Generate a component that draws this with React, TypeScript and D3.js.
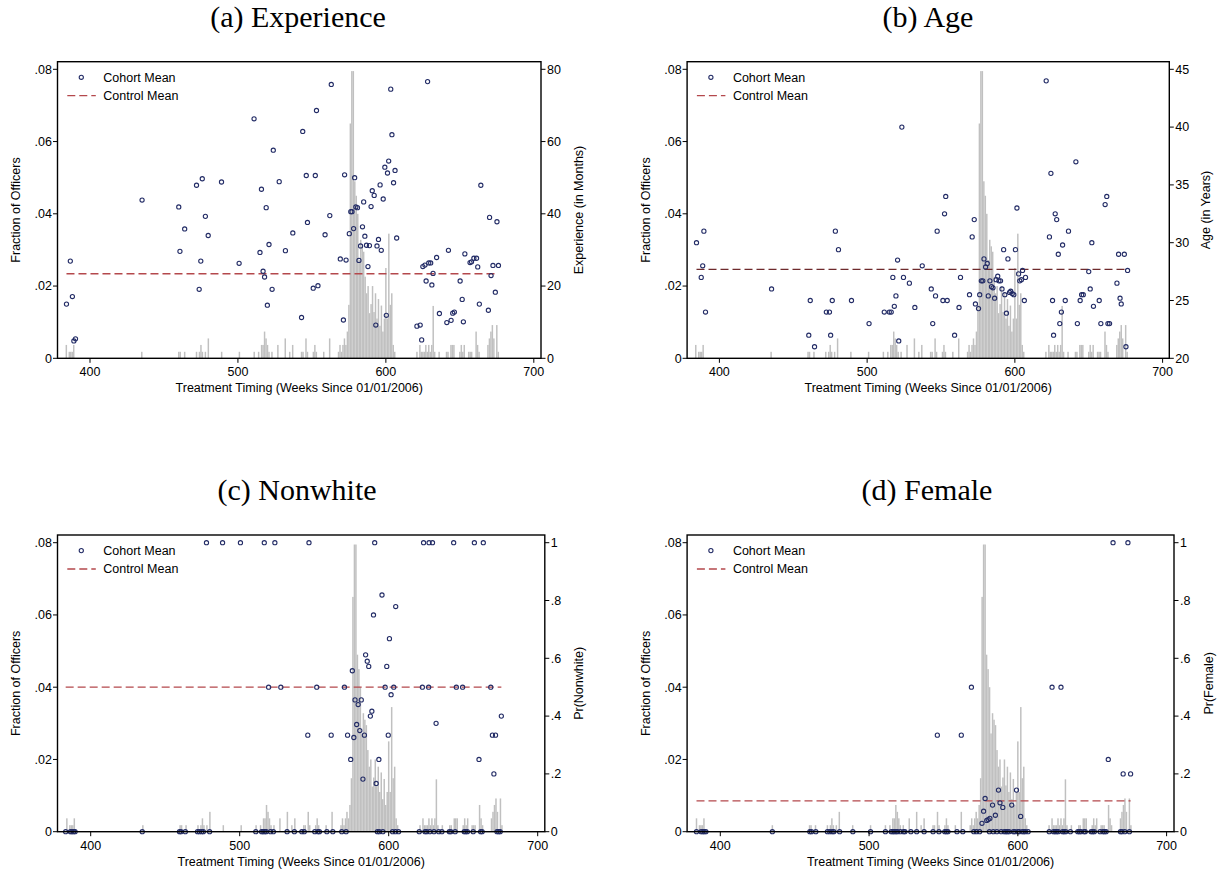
import * as d3 from "d3";

// share of officers treated in each week (histogram, left axis)
const officerShare: [number, number][] = [
  [384, 0.0037], [386, 0.0018], [387, 0.0018], [388, 0.0018], [389, 0.0037],
  [435, 0.0018], [460, 0.0018], [461, 0.0018], [464, 0.0018],
  [472, 0.0018], [474, 0.0018], [475, 0.0037], [476, 0.0018], [478, 0.0018], [480, 0.0055],
  [489, 0.0018], [501, 0.0018], [511, 0.0018], [514, 0.0018],
  [516, 0.0037], [517, 0.0037], [518, 0.0074], [519, 0.0055], [520, 0.0037], [521, 0.0018], [523, 0.0018],
  [527, 0.0037], [532, 0.0055], [535, 0.0018], [537, 0.0037],
  [543, 0.0018], [544, 0.0018], [546, 0.0055], [547, 0.0018],
  [551, 0.0018], [552, 0.0037], [553, 0.0018], [558, 0.0018], [562, 0.0055],
  [568, 0.0018], [569, 0.0037], [570, 0.0018], [571, 0.0037], [572, 0.0055], [573, 0.0037],
  [574, 0.0074], [575, 0.0148], [576, 0.065], [577, 0.0795], [578, 0.0795], [579, 0.049],
  [580, 0.045], [581, 0.04], [582, 0.0272], [583, 0.0328], [584, 0.031], [585, 0.0295],
  [586, 0.0226], [587, 0.018], [588, 0.02], [589, 0.0125], [590, 0.015], [591, 0.02],
  [592, 0.0128], [593, 0.018], [594, 0.011], [595, 0.0164], [596, 0.009], [597, 0.0146],
  [598, 0.0074], [599, 0.011], [600, 0.025], [601, 0.011], [602, 0.0345], [603, 0.0148],
  [604, 0.018], [605, 0.0037], [606, 0.0018],
  [621, 0.0018], [623, 0.0037], [624, 0.0018], [625, 0.0018], [626, 0.0018], [627, 0.0037],
  [628, 0.0018], [629, 0.0037], [630, 0.0018], [631, 0.0037], [632, 0.0145], [633, 0.0018],
  [636, 0.0018], [641, 0.0018], [642, 0.0018], [644, 0.0037], [645, 0.0037], [646, 0.0037],
  [650, 0.0018], [651, 0.0037], [652, 0.0018], [653, 0.0037], [656, 0.0018], [657, 0.0018],
  [658, 0.0018], [661, 0.0074], [662, 0.0037], [663, 0.0018],
  [669, 0.0037], [670, 0.0055], [671, 0.0074], [672, 0.0092], [673, 0.0055], [675, 0.0092], [676, 0.0018],
];

// cohort means: [week, value]
const experiencePoints: [number, number][] = [
  [384.1, 15.0], [386.7, 26.9], [388.1, 17.1], [389.1, 4.8], [390.2, 5.4], [435.2, 43.8],
  [460, 41.9], [460.8, 29.6], [464, 35.8], [472, 47.9], [473.8, 19.1], [474.9, 26.9],
  [475.9, 49.7], [478, 39.3], [479.9, 34.0], [488.9, 48.8], [500.8, 26.3], [510.9, 66.3],
  [514.9, 29.3], [515.9, 46.8], [517, 24.1], [518, 22.5], [519.1, 41.7], [519.9, 14.7],
  [521, 31.5], [523.1, 19.1], [523.9, 57.6], [527.9, 48.9], [532.1, 29.8], [537.1, 34.7],
  [543, 11.3], [543.8, 62.8], [546.2, 50.6], [547, 37.6], [550.9, 19.4], [552.3, 50.6],
  [553.1, 68.6], [554.1, 20.1], [558.9, 34.2], [562.1, 39.5], [563.1, 75.8], [569.2, 27.5],
  [571.3, 10.6], [572.1, 50.8], [573.1, 27.2], [575.3, 34.5], [576.3, 40.6], [577.1, 40.6],
  [578.2, 35.9], [578.9, 50.0], [579.7, 41.9], [580.8, 41.7], [581.8, 27.1], [582.9, 31.1],
  [584.2, 36.4], [585, 43.3], [585.8, 33.8], [586.9, 31.3], [587.9, 25.4], [588.9, 31.2],
  [590, 42.0], [590.8, 46.4], [592.1, 45.1], [593.2, 9.2], [594, 31.1], [595, 32.9],
  [596.1, 48.0], [596.9, 29.9], [598.2, 44.1], [599.3, 52.9], [600.3, 11.9], [601.1, 51.3],
  [601.9, 54.6], [603.3, 74.5], [604.1, 61.9], [605.2, 48.6], [606.2, 52.0], [607.3, 33.3],
  [621, 8.9], [623.2, 9.2], [624.2, 5.1], [625, 25.4], [626.4, 25.8], [627.2, 21.4],
  [628.2, 76.6], [629, 26.4], [630.3, 26.4], [631.1, 20.3], [631.9, 23.5], [634.3, 27.9],
  [636.2, 12.4], [641.2, 9.9], [642.3, 29.9], [644.1, 10.5], [645.2, 12.5], [646.3, 12.8],
  [650.2, 21.4], [651.6, 16.3], [652.4, 10.1], [653.4, 28.9], [656.9, 26.5], [657.9, 26.7],
  [659.5, 27.7], [661.3, 27.7], [662.1, 25.3], [663.2, 15.0], [664.2, 47.9], [669.3, 13.3],
  [670.1, 39.0], [671.1, 22.9], [672.4, 25.7], [674, 18.3], [675.1, 37.8], [676.1, 25.7],
];

const agePoints: [number, number][] = [
  [384.5, 30.0], [387.7, 27.0], [388.7, 28.0], [389.5, 31.0], [390.6, 24.0], [435.3, 26.0],
  [460.5, 22.0], [461.5, 25.0], [464.4, 21.0], [472.4, 24.0], [474.5, 24.0], [475.3, 22.0],
  [476.4, 25.0], [478.5, 31.0], [480.6, 29.4], [489.4, 25.0], [501.3, 23.0], [511.6, 24.0],
  [515, 24.0], [516.3, 24.0], [517.4, 27.0], [518.4, 24.5], [519.5, 25.4], [520.6, 28.5],
  [521.4, 21.5], [523.5, 40.0], [524.6, 27.0], [528.6, 26.5], [532.3, 24.4], [537.3, 28.0],
  [543.4, 26.0], [544.4, 23.0], [546.3, 25.4], [547.4, 31.0], [551.3, 25.0], [552.4, 32.5],
  [553.2, 34.0], [554.2, 25.0], [559.2, 22.0], [562.2, 24.4], [563.2, 27.0], [569.3, 25.5],
  [571.1, 30.5], [572.5, 32.0], [573.3, 24.7], [575.4, 24.3], [576.2, 25.5], [577.3, 26.7],
  [578.3, 26.7], [579.1, 28.6], [580.2, 27.9], [581.3, 28.2], [582, 25.4], [583.1, 26.7],
  [584.2, 26.2], [585.2, 26.1], [586.3, 25.2], [587.3, 26.8], [588.4, 27.1], [589.2, 26.7],
  [590.3, 26.7], [591.3, 26.0], [592.4, 29.4], [593.2, 25.5], [594.3, 23.9], [595.3, 28.6],
  [596.4, 25.7], [597.2, 25.8], [598.2, 25.6], [599.3, 25.5], [600.4, 29.4], [601.4, 33.0],
  [602.5, 27.3], [603.3, 26.7], [604.4, 26.8], [605.2, 27.6], [606.4, 25.0], [607.2, 27.0],
  [621.2, 44.0], [623.4, 30.5], [624.4, 36.0], [625.5, 25.0], [626.2, 22.0], [627.3, 32.5],
  [628.3, 32.0], [629.4, 29.0], [630.4, 23.0], [631.5, 24.0], [632.3, 29.8], [634.1, 25.0],
  [636.3, 31.0], [641.3, 37.0], [642.3, 23.0], [644.2, 25.0], [645.2, 25.5], [646.3, 25.5],
  [650, 27.5], [651, 26.0], [652.1, 30.0], [653.2, 24.5], [657.1, 25.0], [658.2, 23.0],
  [661.1, 33.3], [662.2, 34.0], [663, 23.0], [664.1, 23.0], [669.1, 26.5], [670.2, 29.0],
  [671.2, 25.2], [672, 24.7], [674.1, 29.0], [675.2, 21.0], [676.3, 27.6],
];

const nonwhitePoints: [number, number][] = [
  [477.7, 1], [488.5, 1], [500.5, 1], [516.5, 1], [523.6, 1], [546.5, 1], [590.6, 1],
  [623.4, 1], [627.1, 1], [629.4, 1], [643.6, 1], [657.5, 1], [663.5, 1],
  [519.4, 0.5], [527.6, 0.5], [551.7, 0.5], [570.3, 0.5], [597.6, 0.5], [603.4, 0.5],
  [622.6, 0.5], [626.8, 0.5], [645.4, 0.5], [649.6, 0.5], [668.5, 0.5],
  [545.7, 0.334], [561.4, 0.334], [572.4, 0.334], [576.6, 0.326], [574.5, 0.25], [575.6, 0.557],
  [577.4, 0.456], [578.5, 0.371], [579.5, 0.44], [580.6, 0.35], [581.6, 0.456], [582.7, 0.182],
  [583.7, 0.334], [584.5, 0.612], [585.6, 0.59], [586.6, 0.572], [587.7, 0.4], [588.7, 0.417],
  [589.8, 0.75], [591.6, 0.167], [593.4, 0.25], [595.5, 0.819], [598.7, 0.572], [599.7, 0.334],
  [600.5, 0.668], [601.6, 0.474], [604.7, 0.779], [631.8, 0.375], [660.6, 0.25], [669.6, 0.334],
  [671.7, 0.334], [670.6, 0.2], [675.6, 0.4],
  [383.2, 0], [386.4, 0], [387.4, 0], [388.5, 0], [389.5, 0], [434.6, 0], [459.6, 0], [460.6, 0],
  [463.5, 0], [471.7, 0], [473, 0], [474.5, 0], [475.6, 0], [479.8, 0], [510.8, 0], [514.7, 0],
  [515.7, 0], [516.8, 0], [517.8, 0], [520.7, 0], [522.6, 0], [531.8, 0], [536.7, 0], [541.7, 0],
  [543.3, 0], [550.4, 0], [552.5, 0], [553.5, 0], [558.5, 0], [562.5, 0], [568.5, 0], [571.4, 0],
  [592.4, 0], [593.7, 0], [596.1, 0], [602.6, 0], [604.5, 0], [606.6, 0], [620.5, 0], [624.4, 0],
  [625.5, 0], [627.6, 0], [630.4, 0], [633.6, 0], [635.7, 0], [640.7, 0], [641.7, 0], [644.6, 0],
  [650.7, 0], [651.7, 0], [652.8, 0], [656.7, 0], [661.7, 0], [662.7, 0], [672.7, 0], [673.8, 0],
  [674.8, 0],
];

const femalePoints: [number, number][] = [
  [664, 1], [674, 1], [568.8, 0.5], [623, 0.5], [629, 0.5], [545.9, 0.334], [562, 0.334],
  [660.8, 0.25], [670.8, 0.2], [675.8, 0.2],
  [575.9, 0.029], [577, 0.071], [578, 0.115], [579.1, 0.039], [580.1, 0.042], [581.2, 0.046],
  [583, 0.092], [584.9, 0.057], [587, 0.144], [588, 0.1], [589.9, 0.084], [595.9, 0.092],
  [599.1, 0.144], [601.9, 0.053],
  [384, 0], [387.1, 0], [388.2, 0], [389.2, 0], [390.3, 0], [435, 0], [460.2, 0], [461.3, 0],
  [464.2, 0], [472, 0], [473.6, 0], [475.2, 0], [476.3, 0], [480.2, 0], [489.1, 0], [501, 0],
  [511, 0], [514.9, 0], [516, 0], [517, 0], [518.1, 0], [519.1, 0], [521, 0], [523.1, 0],
  [524.1, 0], [528.1, 0], [532, 0], [537, 0], [543, 0], [547, 0], [550.9, 0], [552, 0], [553, 0],
  [559.1, 0], [563, 0], [570.4, 0], [572.2, 0], [574.3, 0], [580.9, 0], [583.5, 0], [585.9, 0],
  [588.8, 0], [590.9, 0], [592, 0], [593, 0], [594.1, 0], [597, 0], [598, 0], [600.1, 0],
  [600.9, 0], [603, 0], [604, 0], [605.1, 0], [606.9, 0], [621.1, 0], [624, 0], [625.1, 0],
  [626.1, 0], [627.2, 0], [630.1, 0], [631.1, 0], [632.2, 0], [635.3, 0], [640.3, 0], [641.4, 0],
  [642.4, 0], [644.5, 0], [645.3, 0], [649.3, 0], [650.3, 0], [651.4, 0], [655.3, 0], [657.2, 0],
  [658.2, 0], [659.3, 0], [669, 0], [670, 0], [671.9, 0], [675, 0],
];

const controlExperience = 23.4;
const controlAge = 27.7;
const controlNonwhite = 0.5;
const controlFemale = 0.107;

const shareTicks = [0, 0.02, 0.04, 0.06, 0.08];
const weekTicks = [400, 500, 600, 700];

const fmt = (v: number) => (v === 0 ? "0" : String(+v.toFixed(3)).replace(/^0\./, "."));

const SANS = "'Liberation Sans', Arial, Helvetica, sans-serif";
const SERIF = "'Liberation Serif', 'Times New Roman', serif";
const NAVY = "#232c66";
const BAR = "#c0c0c0";

const panels = [
  {
    title: "(a) Experience", titleX: 298, rightLabel: "Experience (in Months)",
    rightDomain: [0, 80], rightTicks: [0, 20, 40, 60, 80], points: experiencePoints,
    control: controlExperience, controlColor: "#b4484c",
    left: 57.5, right: 541, x400: 90, x700: 533.8, top: 61.7, y08: 69.3, bottom: 358.3,
    leftLabelX: 15.6, rightLabelX: 578.8,
  },
  {
    title: "(b) Age", titleX: 928, rightLabel: "Age (in Years)",
    rightDomain: [20, 45], rightTicks: [20, 25, 30, 35, 40, 45], points: agePoints,
    control: controlAge, controlColor: "#6e2a2c",
    left: 687.1, right: 1169.3, x400: 719.4, x700: 1162.6, top: 61.7, y08: 69.3, bottom: 358.3,
    leftLabelX: 645.2, rightLabelX: 1206,
  },
  {
    title: "(c) Nonwhite", titleX: 297, rightLabel: "Pr(Nonwhite)",
    rightDomain: [0, 1], rightTicks: [0, 0.2, 0.4, 0.6, 0.8, 1], points: nonwhitePoints,
    control: controlNonwhite, controlColor: "#b4484c",
    left: 57.5, right: 544.8, x400: 90.7, x700: 537.7, top: 535, y08: 542.7, bottom: 831.7,
    leftLabelX: 15.6, rightLabelX: 578.8,
  },
  {
    title: "(d) Female", titleX: 927, rightLabel: "Pr(Female)",
    rightDomain: [0, 1], rightTicks: [0, 0.2, 0.4, 0.6, 0.8, 1], points: femalePoints,
    control: controlFemale, controlColor: "#b4484c",
    left: 687.1, right: 1174, x400: 720.3, x700: 1166.6, top: 535, y08: 542.7, bottom: 831.7,
    leftLabelX: 645.2, rightLabelX: 1208.4,
  },
];

function Panel({ p }) {
  const x = d3.scaleLinear([400, 700], [p.x400, p.x700]);
  const y = d3.scaleLinear([0, 0.08], [p.bottom, p.y08]);
  const yr = d3.scaleLinear(p.rightDomain, [p.bottom, p.y08]);
  const barW = x(401) - x(400);
  const [w0, w1] = d3.extent(p.points, (d) => d[0]);
  const midY = (p.top + p.bottom) / 2;

  return (
    <g>
      <text x={p.titleX} y={p.top - 35} textAnchor="middle" fontFamily={SERIF} fontSize={30} fill="#000">
        {p.title}
      </text>

      {/* histogram */}
      <g fill={BAR}>
        {officerShare.map(([w, s]) => (
          <rect key={w} x={x(w) - barW / 2} y={y(s)} width={barW} height={p.bottom - y(s)} />
        ))}
      </g>

      {/* control mean */}
      <line x1={x(w0)} x2={x(w1)} y1={yr(p.control)} y2={yr(p.control)}
        stroke={p.controlColor} strokeWidth={1.3} strokeDasharray="8,4" />

      {/* cohort means */}
      <g fill="none" stroke={NAVY} strokeWidth={1.1}>
        {p.points.map(([w, v], i) => (
          <circle key={i} cx={x(w)} cy={yr(v)} r={2.1} />
        ))}
      </g>

      {/* frame */}
      <rect x={p.left} y={p.top} width={p.right - p.left} height={p.bottom - p.top}
        fill="none" stroke="#000" strokeWidth={1.4} />

      <g fontFamily={SANS} fontSize={12.5} fill="#000">
        {shareTicks.map((t) => (
          <g key={t}>
            <line x1={p.left - 4.5} x2={p.left} y1={y(t)} y2={y(t)} stroke="#000" strokeWidth={1} />
            <text x={p.left - 5.5} y={y(t) + 4.3} textAnchor="end">{fmt(t)}</text>
          </g>
        ))}
        {p.rightTicks.map((t) => (
          <g key={t}>
            <line x1={p.right} x2={p.right + 4.5} y1={yr(t)} y2={yr(t)} stroke="#000" strokeWidth={1} />
            <text x={p.right + 6} y={yr(t) + 4.3} textAnchor="start">{fmt(t)}</text>
          </g>
        ))}
        {weekTicks.map((t) => (
          <g key={t}>
            <line x1={x(t)} x2={x(t)} y1={p.bottom} y2={p.bottom + 4.5} stroke="#000" strokeWidth={1} />
            <text x={x(t)} y={p.bottom + 18} textAnchor="middle">{t}</text>
          </g>
        ))}
        <text x={(p.left + p.right) / 2} y={p.bottom + 34} textAnchor="middle">
          Treatment Timing (Weeks Since 01/01/2006)
        </text>
        <text transform={`translate(${p.leftLabelX + 4.3},${midY}) rotate(-90)`} textAnchor="middle">
          Fraction of Officers
        </text>
        <text transform={`translate(${p.rightLabelX + 4.3},${midY}) rotate(-90)`} textAnchor="middle">
          {p.rightLabel}
        </text>

        {/* legend */}
        <circle cx={p.left + 23.8} cy={p.top + 15.6} r={2.1} fill="none" stroke={NAVY} strokeWidth={1.1} />
        <text x={p.left + 45.8} y={p.top + 20}>Cohort Mean</text>
        <line x1={p.left + 9.8} x2={p.left + 38.3} y1={p.top + 34} y2={p.top + 34}
          stroke="#b4484c" strokeWidth={1.3} strokeDasharray="8,4" />
        <text x={p.left + 45.8} y={p.top + 38.4}>Control Mean</text>
      </g>
    </g>
  );
}

export default function App() {
  return (
    <svg width={1225} height={876} style={{ position: "absolute", left: 0, top: 0, background: "#fff" }}>
      {panels.map((p) => (
        <Panel key={p.title} p={p} />
      ))}
    </svg>
  );
}
